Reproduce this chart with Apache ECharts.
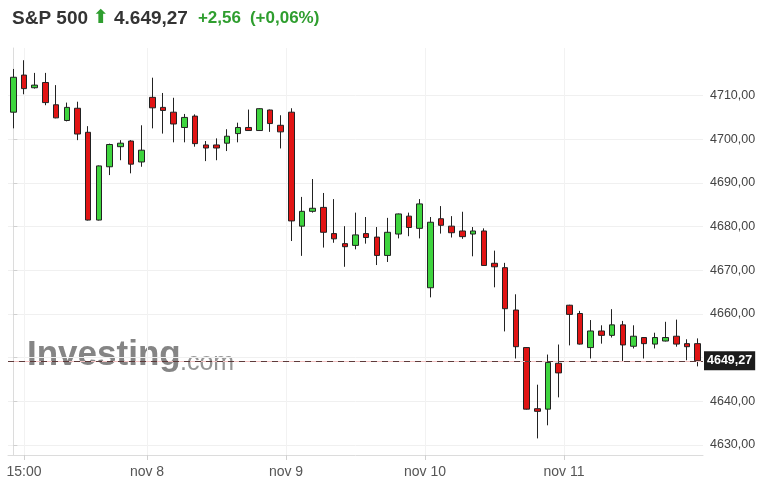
<!DOCTYPE html>
<html>
<head>
<meta charset="utf-8">
<title>S&P 500</title>
<script src="https://cdn.jsdelivr.net/npm/echarts@6/dist/echarts.min.js"></script>
<style>
  html, body { margin: 0; padding: 0; background: #fff; }
  #main { width: 784px; height: 487px; }
</style>
</head>
<body>
<div id="main"></div>
<script>
// 30 min candles, 13 per session
const days = ['5 nov', '8 nov', '9 nov', '10 nov', '11 nov'];
const times = ['14:30', '15:00', '15:30', '16:00', '16:30', '17:00', '17:30',
  '18:00', '18:30', '19:00', '19:30', '20:00', '20:30'];

const open = [
  4706.2, 4714.7, 4711.8, 4713.0, 4707.9, 4704.3, 4707.1, 4701.6, 4681.5, 4693.7, 4698.3, 4699.6, 4694.8,
  4709.6, 4707.3, 4706.2, 4702.7, 4705.3, 4698.7, 4698.7, 4699.1, 4701.3, 4702.7, 4702.0, 4706.7, 4703.2,
  4706.2, 4680.1, 4683.5, 4684.4, 4678.4, 4676.1, 4675.7, 4678.4, 4677.6, 4673.4, 4678.3, 4682.4, 4679.6,
  4666.0, 4681.8, 4680.1, 4679.0, 4678.3, 4679.0, 4671.6, 4670.6, 4660.9, 4652.3, 4638.3, 4638.2, 4648.7,
  4662.0, 4660.1, 4652.3, 4656.1, 4655.1, 4657.5, 4652.6, 4654.6, 4653.1, 4653.8, 4654.9, 4653.2, 4653.2
];
const close = [
  4714.2, 4711.6, 4712.4, 4708.4, 4704.9, 4707.3, 4701.2, 4681.5, 4693.9, 4698.8, 4699.1, 4694.3, 4697.5,
  4707.2, 4706.6, 4703.5, 4705.0, 4699.0, 4698.0, 4698.0, 4700.7, 4702.7, 4702.0, 4707.0, 4703.6, 4701.7,
  4681.3, 4683.5, 4684.2, 4678.7, 4677.2, 4675.4, 4678.1, 4677.5, 4673.4, 4678.7, 4682.9, 4679.8, 4685.2,
  4681.0, 4680.3, 4678.6, 4677.7, 4679.0, 4671.1, 4670.8, 4661.2, 4652.5, 4638.2, 4637.7, 4648.9, 4646.5,
  4659.9, 4653.1, 4656.1, 4655.1, 4657.5, 4652.9, 4654.9, 4653.2, 4654.6, 4654.6, 4653.1, 4652.5, 4649.27
];
const low = [
  4702.5, 4710.3, 4711.6, 4707.8, 4704.8, 4704.1, 4699.8, 4681.4, 4681.4, 4691.8, 4695.2, 4692.2, 4693.7,
  4702.5, 4701.3, 4699.3, 4699.3, 4698.3, 4695.0, 4695.2, 4697.3, 4699.3, 4701.9, 4701.9, 4701.7, 4697.9,
  4676.7, 4673.3, 4683.2, 4675.2, 4676.3, 4670.8, 4674.8, 4676.1, 4671.2, 4671.9, 4677.3, 4677.8, 4677.3,
  4663.8, 4678.4, 4677.5, 4677.2, 4673.2, 4671.0, 4666.1, 4656.0, 4649.8, 4638.1, 4631.5, 4634.5, 4640.9,
  4652.8, 4653.0, 4649.8, 4653.2, 4654.6, 4649.2, 4652.1, 4649.8, 4652.1, 4653.7, 4652.5, 4649.4, 4648.0
];
const high = [
  4716.1, 4718.1, 4715.2, 4715.2, 4712.4, 4708.4, 4708.6, 4703.0, 4694.0, 4699.0, 4699.8, 4699.8, 4703.2,
  4714.1, 4710.6, 4709.5, 4705.8, 4705.7, 4699.6, 4700.2, 4702.3, 4703.8, 4706.8, 4707.1, 4706.8, 4705.5,
  4707.1, 4686.8, 4690.9, 4687.7, 4686.3, 4680.1, 4683.2, 4682.2, 4679.9, 4682.0, 4683.0, 4683.2, 4686.3,
  4682.2, 4684.7, 4682.4, 4683.4, 4679.9, 4679.6, 4674.5, 4671.7, 4664.5, 4652.4, 4643.8, 4650.7, 4653.0,
  4662.1, 4660.7, 4658.6, 4657.4, 4661.1, 4658.4, 4657.4, 4654.7, 4655.7, 4658.2, 4658.7, 4654.2, 4654.4
];
const lastPrice = 4649.27;

// x tick positions are in candle index units (session breaks sit between two candles)
const xTickPos = [1, 12.5, 25.5, 38.5, 51.5];
const xTickLabels = ['15:00', 'nov 8', 'nov 9', 'nov 10', 'nov 11'];
const yTicks = [4630, 4640, 4650, 4660, 4670, 4680, 4690, 4700, 4710];

const categories = [];
days.forEach(d => times.forEach(t => categories.push(d + ' ' + t)));
const candles = open.map((o, i) => [o, close[i], low[i], high[i]]);

const fmt = v => v.toFixed(2).replace('.', ',');
const green = '#2f9e2f';

var chart = echarts.init(document.getElementById('main'));
chart.setOption({
  animation: false,
  backgroundColor: '#fff',
  title: {
    left: 7,
    top: 4,
    text: '{n|S&P 500}{a|⬆}{p|4.649,27}{c|+2,56}{c|(+0,06%)}',
    textStyle: {
      rich: {
        n: { fontFamily: 'Liberation Sans', fontSize: 19, color: '#333' },
        a: { fontFamily: 'DejaVu Sans', fontSize: 19, color: green, padding: [0, 5, 0, 5] },
        p: { fontFamily: 'Liberation Sans', fontSize: 19, fontWeight: 'bold', color: '#333', padding: [0, 10, 0, 0] },
        c: { fontFamily: 'Liberation Sans', fontSize: 17, fontWeight: 'bold', color: green, padding: [0, 9, 0, 0] }
      }
    }
  },
  graphic: [
    {
      type: 'text', left: 27, top: 338, z: 0, silent: true,
      style: { text: 'Investing', font: 'bold 35px "Liberation Sans"', fill: '#858585' }
    },
    {
      type: 'text', left: 180, top: 351, z: 0, silent: true,
      style: { text: '.com', font: '25px "Liberation Sans"', fill: '#959595' }
    }
  ],
  grid: { left: 8, right: 81, top: 48, bottom: 32 },
  xAxis: [
    {
      type: 'category',
      data: categories,
      boundaryGap: true,
      axisLine: { show: false },
      axisTick: { show: false },
      axisLabel: { show: false },
      splitLine: { show: false }
    },
    {
      type: 'value',
      position: 'bottom',
      min: -0.5,
      max: 64.5,
      axisLine: { show: true, lineStyle: { color: '#dcdcdc' } },
      axisTick: { show: true, customValues: xTickPos, length: 5, lineStyle: { color: '#d0d0d0' } },
      axisLabel: {
        customValues: xTickPos,
        margin: 10,
        color: '#555',
        fontFamily: 'Liberation Sans',
        fontSize: 14,
        formatter: v => xTickLabels[xTickPos.indexOf(v)] || ''
      },
      splitLine: { show: true, lineStyle: { color: '#f2f2f2' } }
    }
  ],
  yAxis: {
    type: 'value',
    position: 'right',
    scale: true,
    min: 4627.7,
    max: 4720.9,
    axisLine: { show: true, lineStyle: { color: '#dcdcdc' } },
    axisTick: { show: true, customValues: yTicks, length: 4, lineStyle: { color: '#d0d0d0' } },
    axisLabel: {
      customValues: yTicks,
      margin: 7,
      color: '#444',
      fontFamily: 'Liberation Sans',
      fontSize: 12.5,
      formatter: v => fmt(v)
    },
    splitLine: { show: true, lineStyle: { color: '#f0f0f0' } }
  },
  series: [
    {
      name: 'S&P 500',
      type: 'candlestick',
      xAxisIndex: 0,
      barWidth: 6,
      data: candles,
      itemStyle: {
        color: '#3ed43e',
        color0: '#e11414',
        borderColor: '#222',
        borderColor0: '#222',
        borderWidth: 1
      },
      markLine: {
        silent: true,
        symbol: ['none', 'none'],
        data: [
          {
            yAxis: lastPrice,
            lineStyle: { color: '#f2c2c2', type: 'solid', width: 1 },
            label: { show: false }
          },
          {
            yAxis: lastPrice,
            lineStyle: { color: '#5e3a3a', type: [6, 5], width: 1 },
            label: {
              show: true,
              position: 'end',
              distance: 1,
              formatter: fmt(lastPrice),
              backgroundColor: '#1c1c1c',
              color: '#fff',
              fontFamily: 'Liberation Sans',
              fontWeight: 'bold',
              fontSize: 12.5,
              padding: [3, 3, 3, 3]
            }
          }
        ]
      }
    }
  ]
});
window.addEventListener('resize', () => {
  chart.resize();
});
</script>
</body>
</html>
